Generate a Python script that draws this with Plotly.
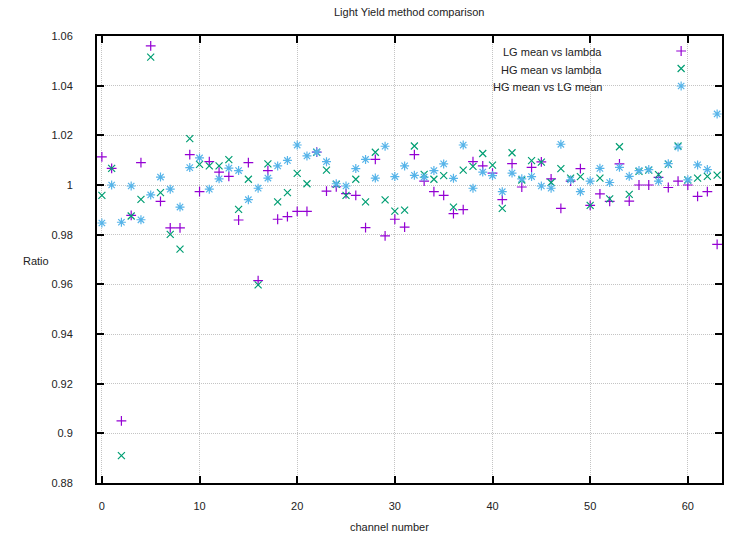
import plotly.graph_objects as go

channels = list(range(64))

lg_vs_lambda = [1.0113, 1.0067, 0.905, 0.9878, 1.009, 1.056, 0.9934, 0.9827, 0.9827, 1.0122,
                0.9973, 1.0094, 1.0052, 1.0035, 0.9859, 1.009, 0.9615, 1.0058, 0.9862, 0.9873,
                0.9894, 0.9894, 1.0132, 0.9975, 0.9993, 0.9965, 0.9958, 0.9828, 1.0103, 0.9795,
                0.9862, 0.983, 1.0122, 1.0016, 0.9973, 0.9958, 0.9885, 0.9901, 1.0094, 1.0077,
                1.0048, 0.9941, 1.0086, 0.9992, 1.0071, 1.0093, 1.0025, 0.9906, 1.0016, 1.0066,
                0.9918, 0.9964, 0.9934, 1.0085, 0.9935, 1.0, 1.0, 1.0031, 0.999, 1.0016,
                1.0, 0.9954, 0.9973, 0.9761]

hg_vs_lambda = [0.9958, 1.0067, 0.891, 0.9875, 0.9942, 1.0515, 0.9969, 0.9801, 0.9742, 1.0187,
                1.0083, 1.0077, 1.0077, 1.0102, 0.9902, 1.0023, 0.9598, 1.0085, 0.9932, 0.9969,
                1.0047, 1.0005, 1.0132, 1.006, 1.0003, 0.9958, 1.0023, 0.9932, 1.0132, 0.994,
                0.9895, 0.9899, 1.0157, 1.0043, 1.0023, 1.0038, 0.9911, 1.006, 1.0075, 1.0127,
                1.008, 0.9906, 1.013, 1.002, 1.0098, 1.0092, 1.001, 1.0066, 1.0028, 1.0034,
                0.9918, 1.0028, 0.9944, 1.0154, 0.9962, 1.0055, 1.006, 1.0042, 1.0084, 1.0157,
                1.002, 1.0028, 1.0035, 1.004]

hg_vs_lg = [0.9847, 1.0, 0.985, 0.9996, 0.986, 0.996, 1.0032, 0.9983, 0.9911, 1.007,
            1.0109, 0.9983, 1.0025, 1.0068, 1.0058, 0.9941, 0.9987, 1.0028, 1.0077, 1.0099,
            1.0161, 1.0117, 1.0132, 1.0094, 1.0005, 0.9996, 1.0066, 1.0103, 1.0028, 1.0156,
            1.0034, 1.0077, 1.0039, 1.0032, 1.0058, 1.0085, 1.0027, 1.0161, 0.9987, 1.0052,
            1.0038, 0.9973, 1.0048, 1.0025, 1.0034, 0.9996, 0.9987, 1.0164, 1.0021, 0.9973,
            1.0016, 1.0067, 1.001, 1.0071, 1.0035, 1.0058, 1.0062, 1.0016, 1.0086, 1.0153,
            1.0021, 1.0081, 1.0062, 1.0286]

series_names = ["LG mean vs lambda", "HG mean vs lambda", "HG mean vs LG mean"]
colors = ["#9400d3", "#009e73", "#56b4e9"]
symbols = ["cross-thin", "x-thin", "asterisk"]
sizes = [7, 7, 7.5]

W, H = 729, 536
L, R, T, B = 97, 5, 36, 53
FONT = "Liberation Sans, Arial, sans-serif"

fig = go.Figure()
for name, ys, c, s, sz in zip(series_names, [lg_vs_lambda, hg_vs_lambda, hg_vs_lg], colors, symbols, sizes):
    fig.add_trace(go.Scatter(
        x=channels, y=ys, mode="markers", name=name, showlegend=False,
        marker=dict(symbol=s, size=sz, color=c, line=dict(color=c, width=1.2)),
    ))

# legend sample markers drawn on a hidden overlay axis (paper-like 0..1)
pw = W - L - R
ph = H - T - B
def px_x(px):
    return (px - L) / pw
def px_y(py):
    return (H - B - py) / ph

legend_rows_y = [51, 68.5, 86]
for name, c, s, sz, ry in zip(series_names, colors, symbols, sizes, legend_rows_y):
    fig.add_trace(go.Scatter(
        x=[px_x(683)], y=[px_y(ry)], mode="markers", showlegend=False,
        xaxis="x2", yaxis="y2", hoverinfo="skip",
        marker=dict(symbol=s, size=sz, color=c, line=dict(color=c, width=1.2)),
    ))

annotations = []
for name, ry in zip(series_names, legend_rows_y):
    annotations.append(dict(
        x=px_x(606), y=px_y(ry + 1), xref="paper", yref="paper",
        text=name, showarrow=False, xanchor="right", yanchor="middle",
        font=dict(family=FONT, size=11, color="#222222"),
    ))

annotations += [
    dict(x=px_x(410), y=px_y(12), xref="paper", yref="paper", text="Light Yield method comparison",
         showarrow=False, xanchor="center", yanchor="middle", font=dict(family=FONT, size=11, color="#222222")),
    dict(x=px_x(36), y=px_y(261), xref="paper", yref="paper", text="Ratio",
         showarrow=False, xanchor="center", yanchor="middle", font=dict(family=FONT, size=11, color="#222222")),
    dict(x=px_x(390), y=px_y(527), xref="paper", yref="paper", text="channel number",
         showarrow=False, xanchor="center", yanchor="middle", font=dict(family=FONT, size=11, color="#222222")),
]

shapes = [dict(type="rect", xref="paper", yref="paper",
               x0=px_x(485), x1=px_x(722), y0=px_y(95), y1=px_y(37),
               fillcolor="white", line=dict(width=0), layer="between")]

axis_common = dict(
    showline=True, linecolor="black", linewidth=2, mirror="ticks",
    ticks="inside", ticklen=7, tickwidth=1.5, tickcolor="black",
    showgrid=True, gridcolor="#c4c4c4", gridwidth=1, griddash="1px,1px",
    zeroline=False, tickfont=dict(family=FONT, size=11, color="#222222"),
)

fig.update_layout(
    width=W, height=H,
    margin=dict(l=L, r=R, t=T, b=B),
    paper_bgcolor="white", plot_bgcolor="white",
    xaxis=dict(range=[-0.5, 63.5], dtick=10, tick0=0, ticklabelstandoff=12, **axis_common),
    yaxis=dict(range=[0.88, 1.06], dtick=0.02, tick0=0.88, ticklabelstandoff=20,
               tickformat="~g", **axis_common),
    xaxis2=dict(range=[0, 1], overlaying="x", visible=False, fixedrange=True),
    yaxis2=dict(range=[0, 1], overlaying="y", visible=False, fixedrange=True),
    annotations=annotations, shapes=shapes, showlegend=False,
)

fig.write_html("out.html")
